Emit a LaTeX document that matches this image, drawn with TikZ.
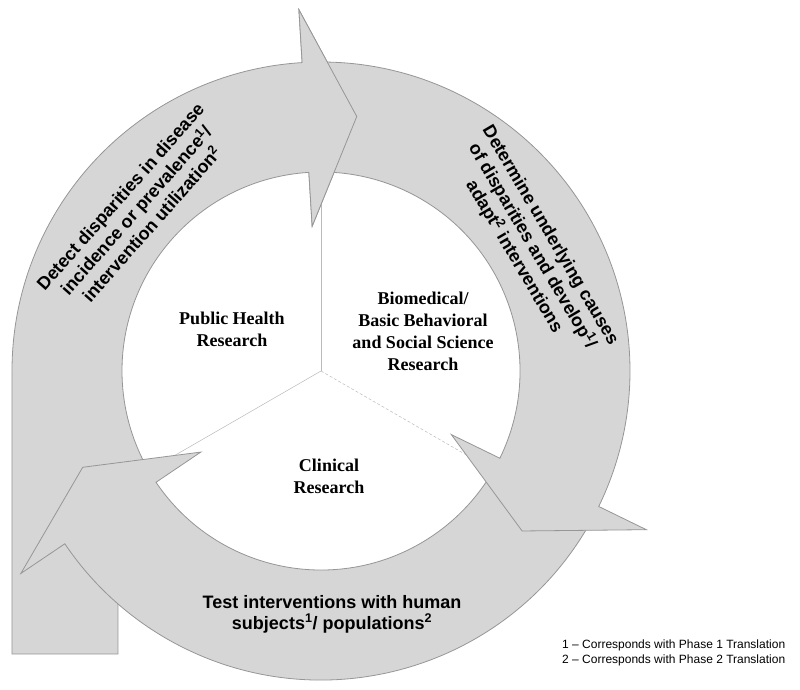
\documentclass[tikz,border=0pt]{standalone}
\usepackage{fontspec}
\setmainfont{Liberation Serif}
\setsansfont{Liberation Sans}
\usepackage{tikz}
\definecolor{ringgray}{RGB}{214,214,214}
\definecolor{ringline}{RGB}{150,150,150}
\definecolor{divline}{RGB}{185,185,185}

\begin{document}
\begin{tikzpicture}[x=1pt,y=1pt,
  ring/.style={fill=ringgray, draw=ringline, line width=0.8pt},
  steptext/.style={font=\sffamily\bfseries\fontsize{18}{21}\selectfont, align=center, inner sep=0pt},
  fieldtext/.style={font=\rmfamily\bfseries\fontsize{18}{22}\selectfont, align=center, inner sep=0pt}]
\useasboundingbox (-321,-318) rectangle (479,371);
\coordinate (c) at (0,0);
\coordinate (d1) at (90:199);
\coordinate (d2) at (210:199);
\coordinate (d3) at (-30:199);
 \draw[divline, line width=0.5pt] (c) -- (d1);
 \draw[divline, line width=0.5pt] (c) -- (d2);
 \draw[divline, line width=0.5pt, densely dashed] (c) -- (d3);
 % left arrow with its tail
 \filldraw[ring] (-309,-283) -- (180:309) arc[start angle=180, end angle=93.5, radius=309] -- (93.5:362) -- (82:257) -- (93.5:145) -- (93.5:199) arc[start angle=93.5, end angle=210, radius=199] -- (-203,-189) -- (-203,-283) -- cycle;
 % bottom arrow
 \filldraw[ring] (-29:309) arc[start angle=-29, end angle=-146, radius=309] -- (-146:362) -- (-158:257) -- (-146:145) -- (-146:199) arc[start angle=-146, end angle=-29, radius=199] -- cycle;
 % right arrow
 \filldraw[ring] (92:309) arc[start angle=92, end angle=-26, radius=309] -- (-26:362) -- (-38.5:257) -- (-26:145) -- (-26:199) arc[start angle=-26, end angle=92, radius=199] -- cycle;
 % head of the left arrow again, over the tail of the right one
 \fill[ringgray] (93.5:309) -- (93.5:362) -- (82:257) -- (93.5:145) -- (93.5:199) -- cycle;
 \draw[ringline, line width=0.8pt] (93.5:309) -- (93.5:362) -- (82:257) -- (93.5:145) -- (93.5:199);
\node[steptext, rotate=48.5] (detect) at (139:245) {Detect disparities in disease\\incidence or prevalence\textsuperscript{1}/\\intervention utilization\textsuperscript{2}};
\node[steptext, rotate=-59.5] (determine) at (30.6:245) {Determine underlying causes\\of disparities and develop\textsuperscript{1}/\\adapt\textsuperscript{2} interventions};
\node[steptext] (test) at (11,-243) {Test interventions with human\\subjects\textsuperscript{1}/ populations\textsuperscript{2}};
\node[fieldtext] (ph) at (-89,42) {Public Health\\Research};
\node[fieldtext] (bio) at (102,40) {Biomedical/\\Basic Behavioral\\and Social Science\\Research};
\node[fieldtext] (clin) at (8,-105) {Clinical\\Research};
\node[font=\sffamily\fontsize{12}{15.5}\selectfont, align=left, anchor=west, inner sep=0pt] (notes) at (241,-282) {1 -- Corresponds with Phase 1 Translation\\2 -- Corresponds with Phase 2 Translation};
\end{tikzpicture}
\end{document}
